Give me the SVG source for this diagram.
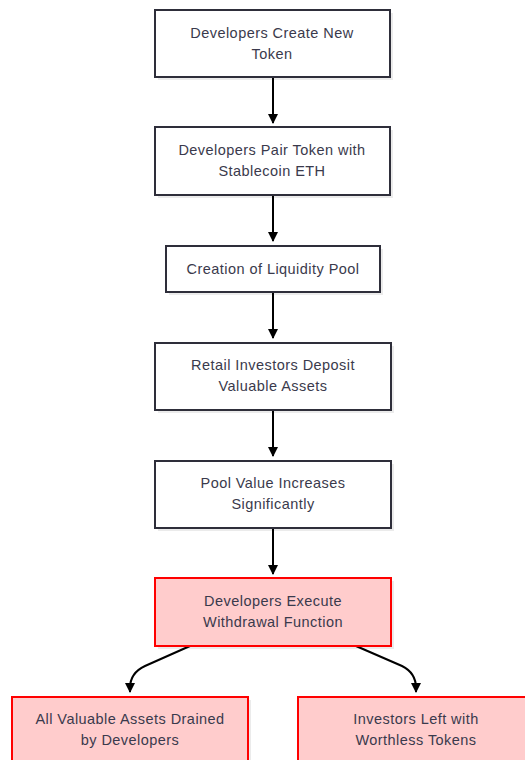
<svg xmlns="http://www.w3.org/2000/svg" width="525" height="760" viewBox="0 0 525 760">
<defs>
<marker id="arrow" viewBox="0 0 10 10" refX="9" refY="5" markerWidth="10" markerHeight="10" markerUnits="userSpaceOnUse" orient="auto">
<path d="M0,0 L10,5 L0,10 z" fill="#000"/>
</marker>
</defs>
<style>
.shadow{fill:#000;opacity:0.08}
.box{fill:#ffffff;stroke:#2e2e3a;stroke-width:2}
.red{fill:#ffcccc;stroke:#ff0000;stroke-width:2}
.t{font-family:"Liberation Sans",Arial,sans-serif;font-size:14.5px;letter-spacing:0.45px;fill:#3a3a4c;text-anchor:middle}
.edge{fill:none;stroke:#000;stroke-width:2;marker-end:url(#arrow)}
</style>
<rect width="525" height="760" fill="#ffffff"/>
<g id="connectors">
<path class="edge" d="M273,77 L273,123"/>
<path class="edge" d="M273,195 L273,241"/>
<path class="edge" d="M273,292 L273,338"/>
<path class="edge" d="M273,410 L273,456"/>
<path class="edge" d="M273,528 L273,574"/>
<path class="edge" d="M190,646 L145,666 Q130,673 130,688 L130,692"/>
<path class="edge" d="M356,646 L402,666 Q416,673 416,688 L416,692"/>
</g>
<g id="n1">
<rect class="shadow" x="158" y="13" width="235" height="67"/>
<rect class="box" x="155" y="10" width="235" height="67"/>
<text class="t" x="272" y="38">Developers Create New</text>
<text class="t" x="272" y="59">Token</text>
</g>
<g id="n2">
<rect class="shadow" x="158" y="130" width="235" height="68"/>
<rect class="box" x="155" y="127" width="235" height="68"/>
<text class="t" x="272" y="155">Developers Pair Token with</text>
<text class="t" x="272" y="176">Stablecoin ETH</text>
</g>
<g id="n3">
<rect class="shadow" x="169" y="249" width="214" height="46"/>
<rect class="box" x="166" y="246" width="214" height="46"/>
<text class="t" x="273" y="274">Creation of Liquidity Pool</text>
</g>
<g id="n4">
<rect class="shadow" x="158" y="346" width="236" height="67"/>
<rect class="box" x="155" y="343" width="236" height="67"/>
<text class="t" x="273" y="370">Retail Investors Deposit</text>
<text class="t" x="273" y="391">Valuable Assets</text>
</g>
<g id="n5">
<rect class="shadow" x="158" y="464" width="236" height="67"/>
<rect class="box" x="155" y="461" width="236" height="67"/>
<text class="t" x="273" y="488">Pool Value Increases</text>
<text class="t" x="273" y="509">Significantly</text>
</g>
<g id="n6">
<rect class="shadow" x="158" y="581" width="236" height="68"/>
<rect class="red" x="155" y="578" width="236" height="68"/>
<text class="t" x="273" y="606">Developers Execute</text>
<text class="t" x="273" y="627">Withdrawal Function</text>
</g>
<g id="n7">
<rect class="shadow" x="15" y="700" width="236" height="68"/>
<rect class="red" x="12" y="697" width="236" height="68"/>
<text class="t" x="130" y="724">All Valuable Assets Drained</text>
<text class="t" x="130" y="745">by Developers</text>
</g>
<g id="n8">
<rect class="shadow" x="301" y="700" width="236" height="68"/>
<rect class="red" x="298" y="697" width="236" height="68"/>
<text class="t" x="416" y="724">Investors Left with</text>
<text class="t" x="416" y="745">Worthless Tokens</text>
</g>
</svg>
